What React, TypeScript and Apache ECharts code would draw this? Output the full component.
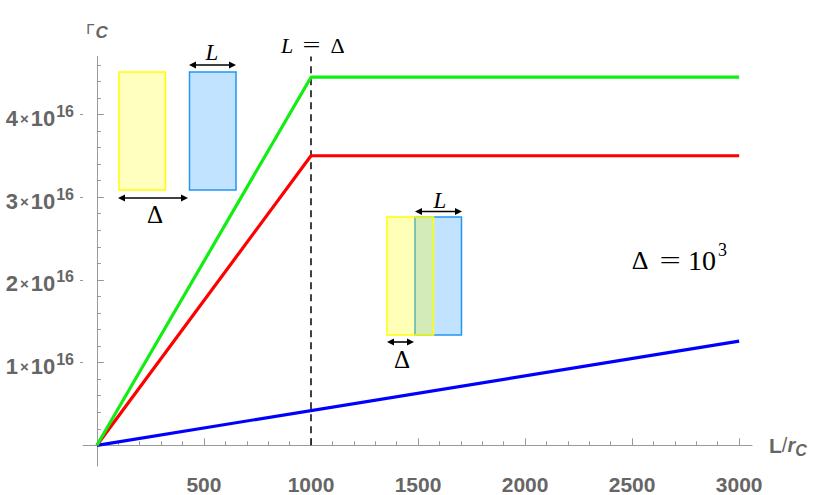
import React, { useEffect, useRef } from "react";
import * as echarts from "echarts";

// ---- data (y in units of 10^16) ----
const lineX = [0, 1000, 3000];
const greenY = [0, 4.45, 4.45];
const redY = [0, 3.5, 3.5];
const blueX = [0, 3000];
const blueY = [0, 1.26];
const dashX = [1000, 1000];
const dashY = [0, 4.7];

const xLabelTicks = [500, 1000, 1500, 2000, 2500, 3000];
const xMinorTicks = [100, 200, 300, 400, 600, 700, 800, 900, 1100, 1200, 1300, 1400, 1600, 1700, 1800, 1900, 2100, 2200, 2300, 2400, 2600, 2700, 2800, 2900];
const yLabelTicks = [1, 2, 3, 4];
const yMinorTicks = [0.2, 0.4, 0.6, 0.8, 1.2, 1.4, 1.6, 1.8, 2.2, 2.4, 2.6, 2.8, 3.2, 3.4, 3.6, 3.8, 4.2, 4.4, 4.6];

const X_MIN = -65, X_MAX = 3060, Y_MIN = -0.25, Y_MAX = 4.7;

const AX = "#999999";
const LAB = "#666666";
const SANS = "Liberation Sans, Arial, sans-serif";
const SERIF = "Liberation Serif, Times New Roman, serif";

function pairs(xs: number[], ys: number[]) {
  return xs.map((x, i) => [x, ys[i]]);
}

function arrow(x1: number, x2: number, y: number) {
  const h = 7, w = 3.5;
  return [
    { type: "line", shape: { x1: x1 + 4, y1: y, x2: x2 - 4, y2: y }, style: { stroke: "#000", lineWidth: 1.6 } },
    { type: "polygon", shape: { points: [[x1, y], [x1 + h, y - w], [x1 + h, y + w]] }, style: { fill: "#000" } },
    { type: "polygon", shape: { points: [[x2, y], [x2 - h, y - w], [x2 - h, y + w]] }, style: { fill: "#000" } },
  ];
}

function txt(text: string, x: number, y: number, size: number, italic = false, align = "center", sx = 1) {
  return {
    type: "text",
    x,
    y,
    scaleX: sx,
    style: {
      text,
      fill: "#000",
      fontFamily: SERIF,
      fontSize: size,
      fontStyle: italic ? "italic" : "normal",
      textAlign: align,
      textVerticalAlign: "middle",
    },
  };
}

const YELLOW_FILL = "rgba(255,255,0,0.25)";
const YELLOW_STROKE = "#ffff00";
const BLUE_FILL = "#c2e3ff";
const BLUE_STROKE = "#2196f3";

export default function App() {
  const ref = useRef<HTMLDivElement>(null);
  useEffect(() => {
    const chart = echarts.init(ref.current!, null, { renderer: "svg" });
    const common = { min: X_MIN, max: X_MAX, type: "value", position: "bottom", splitLine: { show: false } };
    const commonY = { min: Y_MIN, max: Y_MAX, type: "value", position: "left", splitLine: { show: false } };
    chart.setOption({
      animation: false,
      backgroundColor: "#ffffff",
      grid: { left: 83, right: 78, top: 56.5, bottom: 25, containLabel: false },
      xAxis: [
        {
          ...common,
          name: "{l|L}{sl|/}{r|r}{c|C}",
          nameLocation: "end",
          nameGap: 17,
          nameTextStyle: {
            rich: {
              l: { fontFamily: SANS, fontSize: 21, fontWeight: "bold", color: LAB },
              sl: { fontFamily: SANS, fontSize: 20, color: LAB },
              r: { fontFamily: SANS, fontSize: 20, fontStyle: "italic", fontWeight: "bold", color: LAB },
              c: { fontFamily: SANS, fontSize: 16, fontStyle: "italic", fontWeight: "bold", color: LAB, padding: [10, 0, 0, 0] },
            },
          },
          axisLine: { onZero: true, lineStyle: { color: AX, width: 1 } },
          axisTick: { show: true, inside: true, length: 7, customValues: xLabelTicks, lineStyle: { color: AX } },
          axisLabel: {
            customValues: xLabelTicks,
            formatter: (v: number) => String(v),
            margin: 8,
            color: LAB,
            fontFamily: SANS,
            fontSize: 21,
            fontWeight: "bold",
          },
        },
        {
          ...common,
          axisLine: { show: false, onZero: true },
          axisTick: { show: true, inside: true, length: 4, customValues: xMinorTicks, lineStyle: { color: AX } },
          axisLabel: { show: false },
        },
      ],
      yAxis: [
        {
          ...commonY,
          name: "{g|Γ}{c|C}",
          nameLocation: "end",
          nameGap: 16,
          nameTextStyle: {
            align: "center",
            rich: {
              g: { fontFamily: SANS, fontSize: 15, color: LAB },
              c: { fontFamily: SANS, fontSize: 17, fontStyle: "italic", fontWeight: "bold", color: LAB, padding: [8, 0, 0, 1] },
            },
          },
          axisLine: { onZero: true, lineStyle: { color: AX, width: 1 } },
          axisTick: { show: true, inside: true, length: 7, customValues: yLabelTicks, lineStyle: { color: AX } },
          axisLabel: {
            customValues: yLabelTicks,
            margin: 9,
            formatter: (v: number) => `{n|${v}}{x|×}{n|10}{s|16}`,
            rich: {
              n: { fontFamily: SANS, fontSize: 22, fontWeight: "bold", color: LAB, padding: [8, 0, 0, 0] },
              x: { fontFamily: SANS, fontSize: 15, fontWeight: "bold", color: LAB, padding: [8, 2, 0, 2] },
              s: { fontFamily: SANS, fontSize: 16, fontWeight: "bold", color: LAB, padding: [0, 0, 6, 1] },
            },
          },
        },
        {
          ...commonY,
          axisLine: { show: false, onZero: true },
          axisTick: { show: true, inside: true, length: 4, customValues: yMinorTicks, lineStyle: { color: AX } },
          axisLabel: { show: false },
        },
        {
          ...commonY,
          axisLine: { show: false, onZero: true },
          axisTick: { show: true, inside: false, length: 3, customValues: yLabelTicks, lineStyle: { color: AX } },
          axisLabel: { show: false },
        },
      ],
      series: [
        {
          type: "line",
          name: "dashed",
          data: pairs(dashX, dashY),
          symbol: "none",
          lineStyle: { color: "#000", width: 1.5, type: [7, 5] },
          z: 1,
        },
        {
          type: "line",
          name: "blue",
          data: pairs(blueX, blueY),
          symbol: "none",
          lineStyle: { color: "#0000ff", width: 3.2 },
          z: 2,
        },
        {
          type: "line",
          name: "red",
          data: pairs(lineX, redY),
          symbol: "none",
          lineStyle: { color: "#ff0000", width: 3.2 },
          z: 3,
        },
        {
          type: "line",
          name: "green",
          data: pairs(lineX, greenY),
          symbol: "none",
          lineStyle: { color: "#11ee11", width: 3.2 },
          z: 4,
        },
      ],
      graphic: [
        // top-left inset
        { type: "rect", shape: { x: 119, y: 72, width: 46.5, height: 118 }, style: { fill: YELLOW_FILL, stroke: YELLOW_STROKE, lineWidth: 1.5 } },
        { type: "rect", shape: { x: 189.5, y: 72, width: 46.5, height: 118 }, style: { fill: BLUE_FILL, stroke: BLUE_STROKE, lineWidth: 1.5 } },
        ...arrow(189, 236, 65),
        ...arrow(118, 188, 198),
        txt("L", 212, 52, 23, true),
        txt("Δ", 155, 214, 25),
        // middle inset
        { type: "rect", shape: { x: 415, y: 217, width: 46.5, height: 118 }, style: { fill: BLUE_FILL, stroke: BLUE_STROKE, lineWidth: 1.5 } },
        { type: "rect", shape: { x: 387, y: 217, width: 46.5, height: 118 }, style: { fill: "rgba(255,255,0,0.28)", stroke: YELLOW_STROKE, lineWidth: 1.5 } },
        ...arrow(415, 462, 211.5),
        ...arrow(387, 414, 342),
        txt("L", 440, 200, 23, true),
        txt("Δ", 402, 359, 25),
        // L = Δ
        txt("L", 287, 45, 22, true),
        txt("=", 311.5, 45, 22, false, "center", 1.45),
        txt("Δ", 337.5, 45, 22),
        // Δ = 10^3
        txt("Δ", 640, 260, 26),
        txt("=", 670, 260, 26, false, "center", 1.45),
        txt("10", 688, 260, 28, false, "left"),
        txt("3", 718, 250, 18, false, "left"),
      ],
    });
    return () => chart.dispose();
  }, []);
  return <div ref={ref} style={{ position: "fixed", left: 0, top: 0, width: 830, height: 495 }} />;
}
